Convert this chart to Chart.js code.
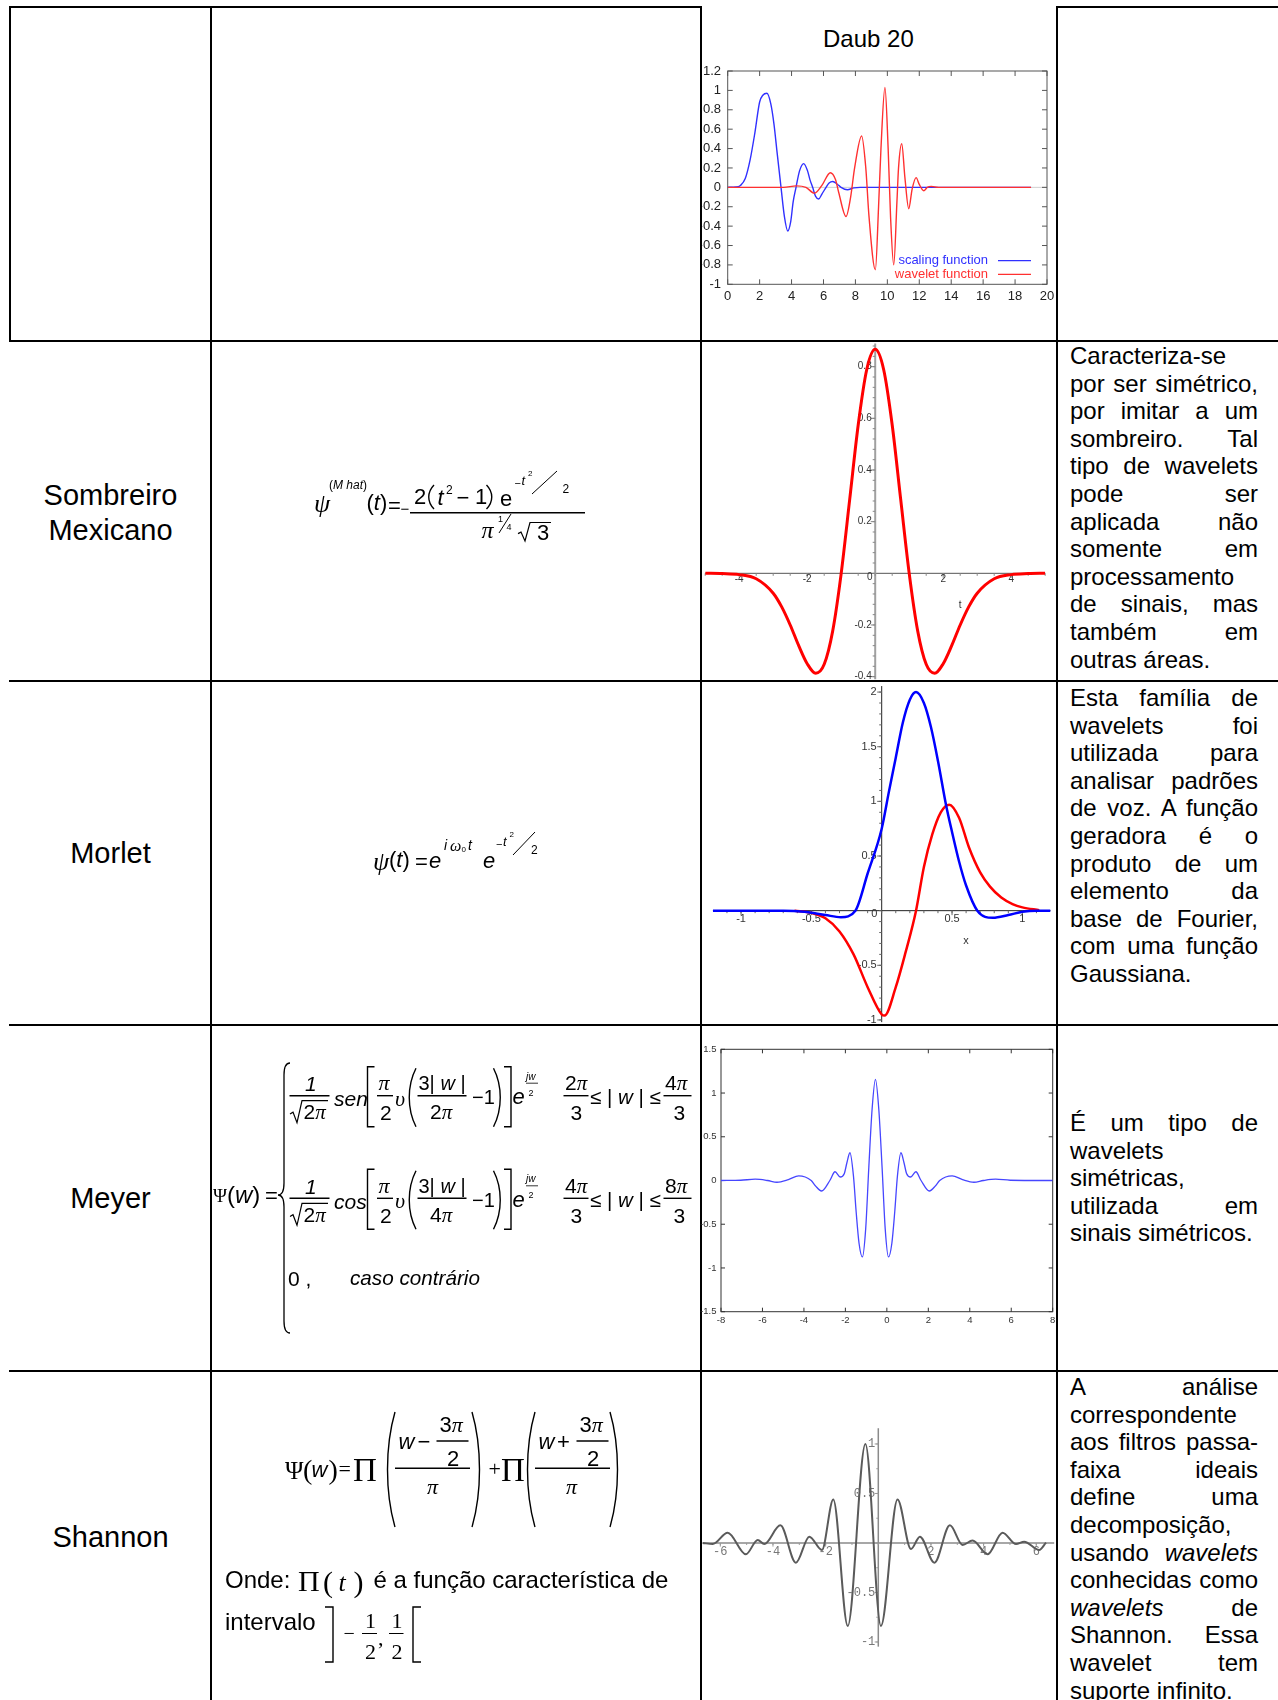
<!DOCTYPE html>
<html>
<head>
<meta charset="utf-8">
<script src="https://cdn.jsdelivr.net/npm/chart.js@4.4.1/dist/chart.umd.min.js"></script>
<style>
html, body { margin: 0; padding: 0; background: #fff; }
#page { position: relative; width: 1278px; height: 1700px; overflow: hidden; font-family: "Liberation Sans", Arial, sans-serif; color: #000; }
.ln { position: absolute; background: #000; }
canvas { position: absolute; }
.name { position: absolute; left: 10px; width: 201px; text-align: center; font-size: 29px; line-height: 34.6px; }
.txt { position: absolute; left: 1070px; width: 188px; font-size: 24px; line-height: 27.6px; }
.j { text-align: justify; text-align-last: justify; }
.f { position: absolute; line-height: 1; white-space: nowrap; transform: translateY(-50%); }
.s { font-family: "Liberation Serif", "Times New Roman", serif; }
.si { font-family: "Liberation Serif", "Times New Roman", serif; font-style: italic; }
#ink { position: absolute; left: 0; top: 0; pointer-events: none; }
</style>
</head>
<body>
<div id="page">
  <!-- table lines -->
  <div class="ln" style="left:9px;top:6px;width:693px;height:2px"></div>
  <div class="ln" style="left:1056px;top:6px;width:222px;height:2px"></div>
  <div class="ln" style="left:9px;top:6px;width:2px;height:336px"></div>
  <div class="ln" style="left:210px;top:6px;width:2px;height:1694px"></div>
  <div class="ln" style="left:700px;top:6px;width:2px;height:1694px"></div>
  <div class="ln" style="left:1056px;top:6px;width:2px;height:1694px"></div>
  <div class="ln" style="left:9px;top:340px;width:1269px;height:2px"></div>
  <div class="ln" style="left:9px;top:680px;width:1269px;height:2px"></div>
  <div class="ln" style="left:9px;top:1024px;width:1269px;height:2px"></div>
  <div class="ln" style="left:9px;top:1370px;width:1269px;height:2px"></div>

  <div class="name" style="top:478px">Sombreiro<br>Mexicano</div>
  <div class="name" style="top:836px">Morlet</div>
  <div class="name" style="top:1181px">Meyer</div>
  <div class="name" style="top:1520px">Shannon</div>

  <div style="position:absolute;left:823px;top:25px;font-size:24px;line-height:27.6px">Daub 20</div>

  <canvas id="daub" width="354" height="262" style="left:702px;top:48px"></canvas>
  <canvas id="mexican" width="354" height="338" style="left:702px;top:342px"></canvas>
  <canvas id="morlet" width="354" height="341" style="left:702px;top:683px"></canvas>
  <canvas id="meyer" width="356" height="343" style="left:700px;top:1027px"></canvas>
  <canvas id="shannon" width="354" height="328" style="left:702px;top:1372px"></canvas>

  <div class="txt" style="top:342px">
    <div>Caracteriza-se</div>
    <div class="j">por ser simétrico,</div>
    <div class="j">por imitar a um</div>
    <div class="j">sombreiro. Tal</div>
    <div class="j">tipo de wavelets</div>
    <div class="j">pode ser</div>
    <div class="j">aplicada não</div>
    <div class="j">somente em</div>
    <div>processamento</div>
    <div class="j">de sinais, mas</div>
    <div class="j">também em</div>
    <div>outras áreas.</div>
  </div>
  <div class="txt" style="top:684px">
    <div class="j">Esta família de</div>
    <div class="j">wavelets foi</div>
    <div class="j">utilizada para</div>
    <div class="j">analisar padrões</div>
    <div class="j">de voz. A função</div>
    <div class="j">geradora é o</div>
    <div class="j">produto de um</div>
    <div class="j">elemento da</div>
    <div class="j">base de Fourier,</div>
    <div class="j">com uma função</div>
    <div>Gaussiana.</div>
  </div>
  <div class="txt" style="top:1109px">
    <div class="j">É um tipo de</div>
    <div>wavelets</div>
    <div>simétricas,</div>
    <div class="j">utilizada em</div>
    <div>sinais simétricos.</div>
  </div>
  <div class="txt" style="top:1373px">
    <div class="j">A análise</div>
    <div>correspondente</div>
    <div class="j">aos filtros passa-</div>
    <div class="j">faixa ideais</div>
    <div class="j">define uma</div>
    <div>decomposição,</div>
    <div class="j">usando <i>wavelets</i></div>
    <div class="j">conhecidas como</div>
    <div class="j"><i>wavelets</i> de</div>
    <div class="j">Shannon. Essa</div>
    <div class="j">wavelet tem</div>
    <div>suporte infinito.</div>
  </div>

  <svg id="ink" width="1278" height="1700"></svg>
</div>

<script>
// values
const daubXTicks = [0, 2, 4, 6, 8, 10, 12, 14, 16, 18, 20];
const daubYTicks = [1.2, 1, 0.8, 0.6, 0.4, 0.2, 0, -0.2, -0.4, -0.6, -0.8, -1];
const daubScalingX = [0, 0.5, 0.8, 1.1, 1.4, 1.7, 2.0, 2.2, 2.46, 2.7, 2.9, 3.1, 3.34, 3.55, 3.76, 3.95, 4.1, 4.28, 4.5, 4.76, 5.0, 5.15, 5.32, 5.5, 5.7, 5.9, 6.16, 6.35, 6.58, 6.85, 7.1, 7.5, 7.9, 8.3, 19];
const daubScalingY = [0, 0.003, 0.02, 0.09, 0.28, 0.56, 0.88, 0.95, 0.97, 0.86, 0.65, 0.35, 0, -0.3, -0.45, -0.35, -0.15, 0, 0.17, 0.245, 0.17, 0.08, 0, -0.09, -0.12, -0.07, 0, 0.045, 0.06, 0.035, 0, -0.025, -0.005, 0, 0];
const daubWaveletX = [0, 3.5, 4.3, 4.9, 5.43, 5.9, 6.43, 6.75, 6.95, 7.41, 7.7, 7.95, 8.39, 8.65, 8.85, 9.25, 9.45, 9.6, 9.85, 10.05, 10.2, 10.4, 10.6, 10.7, 10.9, 11.1, 11.34, 11.55, 11.8, 12.0, 12.28, 12.5, 12.75, 13.2, 19];
const daubWaveletY = [0, 0, 0.015, 0, -0.06, 0.02, 0.15, 0.08, -0.05, -0.3, -0.1, 0.2, 0.53, 0.2, -0.3, -0.85, -0.2, 0.4, 1.03, 0.4, -0.3, -0.8, -0.15, 0.2, 0.45, 0.1, -0.22, -0.02, 0.1, 0.03, -0.035, 0, 0.01, 0, 0];

const mexXTicks = [-4, -2, 2, 4];
const mexYTicks = [0.8, 0.6, 0.4, 0.2, -0.2, -0.4];
const mexX = [-5, -4.5, -4, -3.5, -3, -2.75, -2.5, -2.25, -2, -1.75, -1.5, -1.25, -1, -0.75, -0.5, -0.25, 0, 0.25, 0.5, 0.75, 1, 1.25, 1.5, 1.75, 2, 2.25, 2.5, 2.75, 3, 3.5, 4, 4.5, 5];
const mexY = [0, -0.001, -0.005, -0.021, -0.077, -0.13, -0.2, -0.28, -0.35, -0.387, -0.352, -0.223, 0, 0.286, 0.574, 0.788, 0.867, 0.788, 0.574, 0.286, 0, -0.223, -0.352, -0.387, -0.35, -0.28, -0.2, -0.13, -0.077, -0.021, -0.005, -0.001, 0];

const morletXTicks = [-1, -0.5, 0.5, 1];
const morletYTicks = [2, 1.5, 1, 0.5, -0.5, -1];
const morletBlueX = [-1.2, -0.7, -0.55, -0.4, -0.29, -0.187, -0.1, 0, 0.05, 0.1, 0.15, 0.2, 0.244, 0.3, 0.35, 0.4, 0.457, 0.5, 0.55, 0.6, 0.68, 0.79, 0.9, 1.0, 1.1, 1.2];
const morletBlueY = [0, 0, -0.01, -0.04, -0.06, 0, 0.34, 0.75, 1.08, 1.4, 1.72, 1.93, 2.0, 1.9, 1.68, 1.37, 0.97, 0.72, 0.45, 0.23, 0, -0.065, -0.04, -0.01, 0, 0];
const morletRedX = [-0.62, -0.5, -0.4, -0.3, -0.2, -0.1, 0, 0.02, 0.1, 0.17, 0.244, 0.3, 0.36, 0.42, 0.48, 0.55, 0.62, 0.7, 0.77, 0.85, 0.93, 1.0, 1.12];
const morletRedY = [0, -0.02, -0.07, -0.19, -0.4, -0.7, -0.95, -0.96, -0.7, -0.38, 0, 0.4, 0.7, 0.9, 0.97, 0.85, 0.58, 0.35, 0.22, 0.12, 0.06, 0.03, 0.005];

const meyerXTicks = [-8, -6, -4, -2, 0, 2, 4, 6, 8];
const meyerYTicks = [1.5, 1, 0.5, 0, -0.5, -1, -1.5];
const meyerX = [-8, -7.05, -6.35, -5.75, -5.3, -4.75, -4.25, -3.65, -3.45, -3.15, -2.75, -2.5, -2.25, -2.05, -1.93, -1.78, -1.61, -1.48, -1.34, -1.18, -1.02, -0.87, -0.71, -0.55, -0.39, -0.23, -0.08, 0.08, 0.24, 0.38, 0.51, 0.68, 0.83, 0.95, 1.15, 1.4, 1.65, 2.05, 2.35, 2.55, 3.15, 3.65, 4.2, 4.65, 5.25, 5.95, 8];
const meyerY = [0, 0.003, 0.015, 0, -0.02, 0.01, 0.053, 0, -0.06, -0.12, 0, 0.1, 0.04, 0.08, 0.2, 0.317, 0.05, -0.36, -0.72, -0.874, -0.55, 0.15, 0.82, 1.156, 0.82, 0.15, -0.55, -0.874, -0.72, -0.36, 0.05, 0.317, 0.2, 0.08, 0.04, 0.1, 0, -0.12, -0.06, 0, 0.053, 0.01, -0.02, 0, 0.015, 0.003, 0];

const shannonXTicks = [-6, -4, -2, 2, 4, 6];
const shannonYTicks = [1, 0.5, -0.5, -1];
const shannonX = [-6.67, -6.29, -5.72, -5.03, -4.58, -4.33, -3.72, -3.13, -2.62, -2.14, -1.71, -1.16, -0.49, 0.10, 0.73, 1.24, 1.58, 2.13, 2.72, 3.20, 3.58, 4.15, 4.72, 5.23, 5.54, 6.11, 6.37];
const shannonY = [0, -0.01, 0.104, -0.114, 0.03, -0.01, 0.178, -0.199, 0.064, -0.071, 0.44, -0.838, 1.0, -0.838, 0.44, -0.061, 0.064, -0.199, 0.178, -0.02, 0.024, -0.114, 0.104, -0.01, 0.013, -0.071, 0.003];

function curve(xs, ys) {
    return xs.map((x, i) => ({x: x, y: ys[i]}));
}

function baseOptions(xr, yr, pad) {
    return {
        responsive: false,
        animation: false,
        devicePixelRatio: 1,
        events: [],
        layout: {padding: pad},
        elements: {
            point: {radius: 0},
            line: {cubicInterpolationMode: "monotone", fill: false},
        },
        scales: {
            x: {type: "linear", min: xr[0], max: xr[1], display: false},
            y: {type: "linear", min: yr[0], max: yr[1], display: false},
        },
        plugins: {legend: {display: false}, tooltip: {enabled: false}},
    };
}

// framed axes (gnuplot / matlab style), ticks pointing inwards
function boxAxes(c) {
    return {
        id: "boxAxes",
        beforeDatasetsDraw(chart) {
            const {ctx, chartArea: a, scales: {x, y}} = chart;
            ctx.save();
            if (c.zeroColor) {
                const z = y.getPixelForValue(0);
                ctx.strokeStyle = c.zeroColor;
                ctx.lineWidth = 1;
                ctx.beginPath();
                ctx.moveTo(a.left, z);
                ctx.lineTo(a.right, z);
                ctx.stroke();
            }
            ctx.strokeStyle = c.frameColor;
            ctx.lineWidth = 1;
            ctx.strokeRect(a.left, a.top, a.right - a.left, a.bottom - a.top);
            ctx.beginPath();
            c.xTicks.forEach(function (v) {
                const p = x.getPixelForValue(v);
                ctx.moveTo(p, a.bottom); ctx.lineTo(p, a.bottom - c.tick);
                ctx.moveTo(p, a.top); ctx.lineTo(p, a.top + c.tick);
            });
            c.yTicks.forEach(function (v) {
                const p = y.getPixelForValue(v);
                ctx.moveTo(a.left, p); ctx.lineTo(a.left + c.tick, p);
                ctx.moveTo(a.right, p); ctx.lineTo(a.right - c.tick, p);
            });
            ctx.stroke();
            ctx.fillStyle = c.labelColor;
            ctx.font = c.labelFont;
            ctx.textBaseline = "middle";
            ctx.textAlign = "center";
            c.xTicks.forEach(v => ctx.fillText(String(v), x.getPixelForValue(v), a.bottom + c.xGap));
            ctx.textAlign = "right";
            c.yTicks.forEach(v => ctx.fillText(String(v), a.left - c.yGap, y.getPixelForValue(v)));
            ctx.restore();
        },
    };
}

// axes crossing at the origin (maple style)
function crossAxes(c) {
    return {
        id: "crossAxes",
        beforeDatasetsDraw(chart) {
            const {ctx, scales: {x, y}} = chart;
            const px = v => x.getPixelForValue(v);
            const py = v => y.getPixelForValue(v);
            const x0 = px(0), y0 = py(0);
            ctx.save();
            ctx.strokeStyle = c.xColor;
            ctx.lineWidth = c.xWidth;
            ctx.beginPath(); ctx.moveTo(px(c.xSpan[0]), y0); ctx.lineTo(px(c.xSpan[1]), y0); ctx.stroke();
            ctx.strokeStyle = c.yColor;
            ctx.lineWidth = c.yWidth;
            ctx.beginPath(); ctx.moveTo(x0, py(c.ySpan[0])); ctx.lineTo(x0, py(c.ySpan[1])); ctx.stroke();
            ctx.strokeStyle = c.tickColor;
            ctx.lineWidth = 1;
            ctx.beginPath();
            for (let k = Math.ceil(c.xSpan[0] / c.xStep); k * c.xStep <= c.xSpan[1]; k++) {
                const p = px(k * c.xStep);
                ctx.moveTo(p, y0); ctx.lineTo(p, y0 + c.tick);
            }
            for (let k = Math.ceil(c.ySpan[0] / c.yStep); k * c.yStep <= c.ySpan[1]; k++) {
                const p = py(k * c.yStep);
                ctx.moveTo(x0, p); ctx.lineTo(x0 - c.tick, p);
            }
            c.xTicks.forEach(function (v) { ctx.moveTo(px(v), y0); ctx.lineTo(px(v), y0 + c.tick * 1.8); });
            c.yTicks.forEach(function (v) { ctx.moveTo(x0, py(v)); ctx.lineTo(x0 - c.tick * 1.8, py(v)); });
            ctx.stroke();
            ctx.fillStyle = c.labelColor;
            ctx.font = c.labelFont;
            ctx.textBaseline = "middle";
            ctx.textAlign = "center";
            c.xTicks.forEach(v => ctx.fillText(String(v), px(v), y0 + c.xLabelDy));
            ctx.textAlign = "right";
            c.yTicks.forEach(v => ctx.fillText(String(v), x0 + c.yLabelDx, py(v)));
            ctx.textAlign = "center";
            c.extra.forEach(e => ctx.fillText(e[0], px(e[1]), py(e[2])));
            ctx.restore();
        },
    };
}

// gnuplot key: text right aligned, sample line on the right
function sideLegend(c) {
    return {
        id: "sideLegend",
        afterDatasetsDraw(chart) {
            const {ctx, chartArea: a} = chart;
            ctx.save();
            ctx.font = c.labelFont;
            ctx.textAlign = "right";
            ctx.textBaseline = "middle";
            ctx.lineWidth = 1.3;
            c.order.forEach(function (idx, i) {
                const ds = chart.data.datasets[idx];
                const yy = a.bottom - c.bottomGap + i * c.rowGap;
                ctx.fillStyle = ds.borderColor;
                ctx.fillText(ds.label, a.right - c.textGap, yy);
                ctx.strokeStyle = ds.borderColor;
                ctx.beginPath();
                ctx.moveTo(a.right - c.lineFrom, yy);
                ctx.lineTo(a.right - c.lineTo, yy);
                ctx.stroke();
            });
            ctx.restore();
        },
    };
}

new Chart(document.getElementById("daub"), {
    type: "line",
    data: {
        datasets: [
            {label: "wavelet function", data: curve(daubWaveletX, daubWaveletY), borderColor: "#ff3030", borderWidth: 1.4},
            {label: "scaling function", data: curve(daubScalingX, daubScalingY), borderColor: "#3030ff", borderWidth: 1.4},
        ],
    },
    options: baseOptions([0, 20], [-1, 1.2], {left: 25.7, right: 9, top: 23, bottom: 25.7}),
    plugins: [
        boxAxes({xTicks: daubXTicks, yTicks: daubYTicks, frameColor: "#555", zeroColor: "#cfcfcf", tick: 5,
            labelColor: "#222", labelFont: '13px "Liberation Sans", Arial', xGap: 12.4, yGap: 6.7}),
        sideLegend({order: [1, 0], labelFont: '13px "Liberation Sans", Arial', bottomGap: 23.6, rowGap: 13.6,
            textGap: 59, lineFrom: 49, lineTo: 16}),
    ],
});

new Chart(document.getElementById("mexican"), {
    type: "line",
    data: {datasets: [{label: "psi", data: curve(mexX, mexY), borderColor: "#ff0000", borderWidth: 3}]},
    options: baseOptions([-5, 5], [-0.413, 0.8955], {left: 3.2, right: 10.8, top: 0, bottom: 0}),
    plugins: [
        crossAxes({xSpan: [-5, 5], ySpan: [-0.41, 0.89], xColor: "#555", xWidth: 1, yColor: "#a0a0a0", yWidth: 2,
            tickColor: "#888", xStep: 0.5, yStep: 0.04, tick: 2.5,
            xTicks: mexXTicks, yTicks: mexYTicks, labelColor: "#333", labelFont: '10px "Liberation Sans", Arial',
            xLabelDy: 5.5, yLabelDx: -3.5, extra: [["0", -0.16, -0.014], ["t", 2.5, -0.123]]}),
    ],
});

new Chart(document.getElementById("morlet"), {
    type: "line",
    data: {
        datasets: [
            {label: "real", data: curve(morletBlueX, morletBlueY), borderColor: "#0000ff", borderWidth: 2.5},
            {label: "imag", data: curve(morletRedX, morletRedY), borderColor: "#ff0000", borderWidth: 2.5},
        ],
    },
    options: baseOptions([-1.2, 1.2], [-1.037, 2.083], {left: 10.9, right: 5.5, top: 0, bottom: 0}),
    plugins: [
        crossAxes({xSpan: [-1.2, 1.2], ySpan: [-1.02, 2.055], xColor: "#222", xWidth: 1, yColor: "#222", yWidth: 1,
            tickColor: "#666", xStep: 0.1, yStep: 0.1, tick: 2.5,
            xTicks: morletXTicks, yTicks: morletYTicks, labelColor: "#333", labelFont: '11px "Liberation Sans", Arial',
            xLabelDy: 8, yLabelDx: -5, extra: [["0", -0.053, -0.033], ["x", 0.6, -0.28]]}),
    ],
});

new Chart(document.getElementById("meyer"), {
    type: "line",
    data: {datasets: [{label: "psi", data: curve(meyerX, meyerY), borderColor: "#4646ff", borderWidth: 1.3}]},
    options: baseOptions([-8, 8], [-1.5, 1.5], {left: 21, right: 3.3, top: 22.3, bottom: 58.3}),
    plugins: [
        boxAxes({xTicks: meyerXTicks, yTicks: meyerYTicks, frameColor: "#333", tick: 4,
            labelColor: "#333", labelFont: '9.5px "Liberation Sans", Arial', xGap: 8.3, yGap: 4.5}),
    ],
});

new Chart(document.getElementById("shannon"), {
    type: "line",
    data: {datasets: [{label: "psi", data: curve(shannonX, shannonY), borderColor: "#5a5a5a", borderWidth: 2}]},
    options: baseOptions([-6.696, 6.749], [-1.586, 1.727], {left: 0, right: 0, top: 0, bottom: 0}),
    plugins: [
        crossAxes({xSpan: [-6.67, 6.68], ySpan: [-1.047, 1.159], xColor: "#8a8a8a", xWidth: 1.5, yColor: "#8a8a8a", yWidth: 1.5,
            tickColor: "#999", xStep: 1, yStep: 0.25, tick: 2,
            xTicks: shannonXTicks, yTicks: shannonYTicks, labelColor: "#777", labelFont: '12px "Liberation Mono", monospace',
            xLabelDy: 9, yLabelDx: -3, extra: []}),
    ],
});

// ---- formulas ----
const page = document.getElementById("page");
const ink = document.getElementById("ink");

function put(x, y, html, size, cls) {
    const e = document.createElement("span");
    e.className = "f" + (cls ? " " + cls : "");
    e.innerHTML = html;
    e.style.left = x + "px";
    e.style.top = y + "px";
    e.style.fontSize = size + "px";
    page.appendChild(e);
}
function stroke(d, w) {
    const p = document.createElementNS("http://www.w3.org/2000/svg", "path");
    p.setAttribute("d", d);
    p.setAttribute("fill", "none");
    p.setAttribute("stroke", "#000");
    p.setAttribute("stroke-width", w || 1.4);
    ink.appendChild(p);
}
function bar(x1, x2, y, w) { stroke("M" + x1 + " " + y + "H" + x2, w || 1.4); }
function paren(x, y1, y2, w, side) {
    const h = y2 - y1;
    if (side === "l") stroke(`M${x + w} ${y1}C${x} ${y1 + h * 0.3} ${x} ${y2 - h * 0.3} ${x + w} ${y2}`);
    else stroke(`M${x} ${y1}C${x + w} ${y1 + h * 0.3} ${x + w} ${y2 - h * 0.3} ${x} ${y2}`);
}
function brack(x, y1, y2, w, side) {
    if (side === "l") stroke(`M${x + w} ${y1}H${x}V${y2}H${x + w}`);
    else stroke(`M${x} ${y1}H${x + w}V${y2}H${x}`);
}
function radical(x, yt, yb, xe) {
    const h = yb - yt;
    stroke(`M${x} ${yt + h * 0.6}L${x + 3} ${yt + h * 0.52}L${x + 7} ${yb}L${x + 12} ${yt}H${xe}`, 1.2);
}
const PI = '<span class="si">π</span>';

// sombreiro mexicano
put(314, 504, "ψ", 26, "si");
put(329, 485, "(<i>M hat</i>)", 12);
put(366.5, 503, "(<i>t</i>)", 22);
put(388, 505.5, "=", 22);
put(400.5, 507.5, "−", 15);
bar(410, 585, 512.7);
put(414, 497, "2", 22);
paren(427, 485, 509, 7, "l");
put(437.5, 498, "<i>t</i>", 22);
put(446, 490, "2", 12);
put(456.5, 498, "−", 22);
put(475, 497, "1", 22);
paren(486.5, 485, 509, 7, "r");
put(500, 499, "e", 22);
put(514.5, 483, "−", 11);
put(521.5, 480, "<i>t</i>", 13);
put(528, 474, "2", 8);
stroke("M532 494L557 471", 1);
put(562.5, 489, "2", 12);
put(481.5, 530, "π", 24, "si");
put(498, 519, "1", 9);
stroke("M499 533L511 514", 1);
put(506.5, 527, "4", 9);
radical(518, 522.5, 541, 551);
put(537, 533, "3", 22);

// morlet
put(373, 862, "ψ", 26, "si");
put(389, 860, "(<i>t</i>)", 22);
put(415, 862, "=", 22);
put(429, 861, "<i>e</i>", 22);
put(444, 845, "<i>i</i>", 14);
put(450, 846, "ω", 16, "si");
put(461.5, 850, "0", 8);
put(468, 845, "<i>t</i>", 14);
put(483, 861, "<i>e</i>", 22);
put(496, 844, "−", 11);
put(503, 841, "<i>t</i>", 13);
put(509.5, 835, "2", 8);
stroke("M513 855L535 832", 1);
put(531, 850, "2", 12);

// meyer
put(213, 1195, "Ψ", 19, "s");
put(227, 1195, "(<i>w</i>)", 24);
put(265, 1196, "=", 22);
stroke("M290 1063Q284 1063 284 1075L284 1183Q284 1195 278 1195Q284 1195 284 1207L284 1321Q284 1333 290 1333", 1.3);

function meyerRow(yb, trig, den, lo, hi) {
    const num = yb - 12.4, dn = yb + 16.2, mid = yb + 1.5;
    put(305, num, "<i>1</i>", 21);
    bar(289.5, 329.5, yb);
    radical(290, yb + 5, yb + 27, 328);
    put(303.5, dn, "2" + PI, 21);
    put(334, mid + 1, "<i>" + trig + "</i>", 21);
    brack(367.5, yb - 29, yb + 31, 7, "l");
    put(378.5, num, "π", 22, "si");
    bar(377, 393, yb);
    put(380, dn, "2", 21);
    put(395, mid + 1.5, "υ", 22, "si");
    paren(407, yb - 27.5, yb + 31, 9, "l");
    put(418.5, num, "3| <i>w</i> |", 20);
    bar(417.5, 466.5, yb);
    put(430, dn, den.replace("π", PI), 21);
    put(472, mid, "−1", 20);
    paren(493.5, yb - 27.5, yb + 31, 9, "r");
    brack(504, yb - 29, yb + 31, 7, "r");
    put(512.5, mid, "<i>e</i>", 22);
    put(526, yb - 19, "<i>jw</i>", 10);
    bar(526, 538, yb - 12.5, 0.8);
    put(528.5, yb - 3, "2", 9);
    put(565, num, lo.replace("π", PI), 21);
    bar(563.5, 588.5, yb);
    put(570.5, dn, "3", 21);
    put(590, mid, "≤ | <i>w</i> | ≤", 20.5);
    put(665, num, hi.replace("π", PI), 21);
    bar(663.5, 691.5, yb);
    put(673.5, dn, "3", 21);
}
meyerRow(1095.7, "sen", "2π", "2π", "4π");
meyerRow(1198.3, "cos", "4π", "4π", "8π");
put(288, 1278, "0 ,", 21);
put(350, 1278, "<i>caso contrário</i>", 20.7);

// shannon
put(285, 1470, "Ψ", 25, "s");
put(303, 1470, "(", 28, "s");
put(311.5, 1470, "<i>w</i>", 22);
put(328.5, 1470, ")", 28, "s");
put(338.5, 1469, "=", 22, "s");
put(353, 1470, "Π", 33, "s");
paren(385, 1412, 1527, 10, "l");
put(398.5, 1441.5, "<i>w</i>", 22);
put(417.5, 1441.5, "−", 22);
put(439.5, 1425, "3" + PI, 22);
bar(436.5, 468.5, 1441);
put(447, 1458.5, "2", 22);
bar(395, 470, 1468.3);
put(427, 1486.5, "π", 22, "si");
paren(472, 1412, 1527, 10, "r");
put(488.5, 1469, "+", 22, "s");
put(501, 1470, "Π", 33, "s");
paren(525, 1412, 1527, 10, "l");
put(538.5, 1441.5, "<i>w</i>", 22);
put(557, 1441.5, "+", 22);
put(579.5, 1425, "3" + PI, 22);
bar(576.5, 608.5, 1441);
put(587, 1458.5, "2", 22);
bar(535, 610, 1468.3);
put(566, 1486.5, "π", 22, "si");
paren(610, 1412, 1527, 10, "r");

put(225, 1580, "Onde:", 24);
put(298, 1581, "Π", 30, "s");
put(323, 1582, "(", 30, "s");
put(338.5, 1583, "<i>t</i>", 26, "s");
put(353.5, 1582, ")", 30, "s");
put(373.5, 1580, "é a função característica de", 24);
put(225, 1622, "intervalo", 24);
brack(325, 1607, 1662, 8, "r");
put(343.5, 1633, "−", 20, "s");
put(365, 1621, "1", 22, "s");
bar(362, 377, 1633.5, 1);
put(365, 1652, "2", 22, "s");
put(378, 1638, ",", 22, "s");
put(391.5, 1621, "1", 22, "s");
bar(389, 403.5, 1633.5, 1);
put(391.5, 1652, "2", 22, "s");
brack(413, 1607, 1662, 8, "l");
</script>
</body>
</html>
